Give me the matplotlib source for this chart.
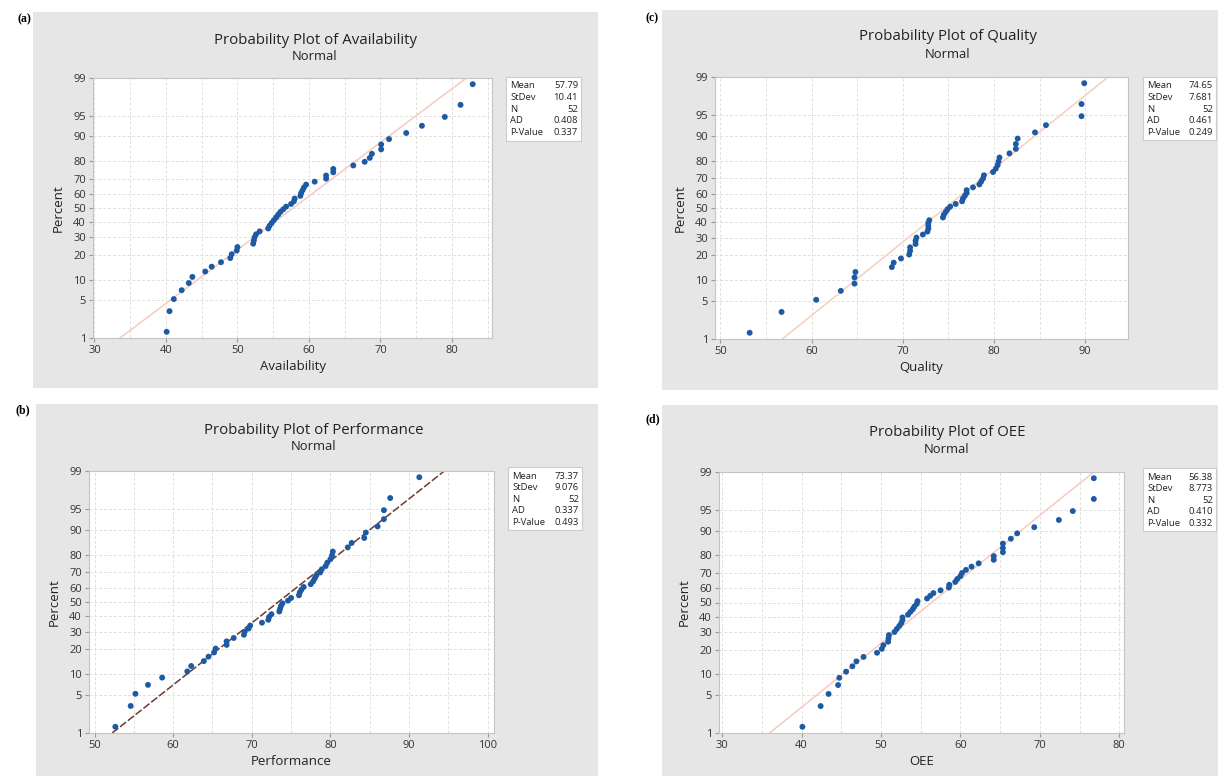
import numpy as np
import matplotlib
matplotlib.use("Agg")
import matplotlib.pyplot as plt
from matplotlib.patches import Rectangle
from matplotlib.ticker import MultipleLocator
from statistics import NormalDist

W, H = 1218, 776

availability = [40.1, 40.5, 41.1, 42.2, 43.2, 43.7, 45.5, 46.4, 47.7, 49.0,
                49.2, 49.9, 50.0, 52.2, 52.3, 52.4, 52.6, 53.1, 54.3, 54.5,
                54.8, 55.1, 55.4, 55.7, 56.0, 56.4, 56.8, 57.5, 57.9, 58.0,
                58.8, 58.9, 59.1, 59.3, 59.6, 60.8, 62.4, 62.4, 63.4, 63.4,
                66.2, 67.8, 68.5, 68.8, 70.1, 70.1, 71.2, 73.6, 75.8, 79.0,
                81.2, 82.9]
quality = [53.2, 56.7, 60.5, 63.2, 64.7, 64.7, 64.8, 68.8, 69.0, 69.8,
           70.7, 70.8, 70.8, 71.4, 71.4, 71.5, 72.2, 72.7, 72.8, 72.8,
           72.8, 72.9, 74.4, 74.5, 74.7, 74.9, 75.2, 75.8, 76.5, 76.6,
           76.8, 77.0, 77.0, 77.7, 78.4, 78.6, 78.8, 78.9, 79.9, 80.2,
           80.4, 80.5, 80.6, 81.7, 82.4, 82.4, 82.6, 84.5, 85.7, 89.6,
           89.6, 89.9]
performance = [52.65, 54.6, 55.2, 56.8, 58.6, 61.8, 62.3, 63.9, 64.5, 65.2,
               65.4, 66.8, 66.8, 67.7, 69.0, 69.1, 69.6, 69.8, 71.3, 72.1,
               72.2, 72.5, 73.5, 73.6, 73.7, 73.9, 74.6, 75.0, 76.0, 76.1,
               76.3, 76.6, 77.5, 77.8, 78.0, 78.2, 78.7, 78.9, 79.4, 79.6,
               80.0, 80.2, 80.3, 82.2, 82.7, 84.3, 84.5, 86.0, 86.8, 86.8,
               87.6, 91.3]
oee = [40.1, 42.4, 43.4, 44.6, 44.75, 45.6, 46.4, 46.9, 47.8, 49.5,
       50.1, 50.3, 50.9, 50.95, 51.0, 51.7, 52.0, 52.3, 52.55, 52.7,
       52.7, 53.4, 53.7, 54.0, 54.2, 54.5, 54.6, 55.8, 56.2, 56.6,
       57.5, 58.55, 58.6, 59.35, 59.6, 60.0, 60.2, 60.7, 61.4, 62.3,
       64.2, 64.2, 65.35, 65.35, 65.35, 66.35, 67.15, 69.3, 72.4, 74.15,
       76.8, 76.8]

stat_names = ["Mean", "StDev", "N", "AD", "P-Value"]
stats_avail = ["57.79", "10.41", "52", "0.408", "0.337"]
stats_qual = ["74.65", "7.681", "52", "0.461", "0.249"]
stats_perf = ["73.37", "9.076", "52", "0.337", "0.493"]
stats_oee = ["56.38", "8.773", "52", "0.410", "0.332"]

pct_ticks = [1, 5, 10, 20, 30, 40, 50, 60, 70, 80, 90, 95, 99]

nd = NormalDist()
_ppf = np.vectorize(nd.inv_cdf, otypes=[float])
_cdf = np.vectorize(nd.cdf, otypes=[float])


def fwd(p):
    p = np.clip(np.asarray(p, float), 1e-4, 100 - 1e-4) / 100
    return _ppf(p)


def inv(z):
    return _cdf(np.asarray(z, float)) * 100


def frect(l, t, r, b):
    return [l / W, 1 - b / H, (r - l) / W, (b - t) / H]


plt.rcParams['font.family'] = ['Open Sans', 'DejaVu Sans']
fig = plt.figure(figsize=(W / 100, H / 100), dpi=100)
fig.patch.set_facecolor('white')

panels = [
    dict(tag='(a)', tag_xy=(17, 19), name='Availability', data=availability,
         stats=stats_avail, bg=(33, 12, 598, 388), box=(93, 78, 492, 338),
         xlim=(29.8, 85.6), xmaj=10, title_xy=(315, 40), sbox=(506, 77, 581, 141),
         line='#f5cbc0', ls='-'),
    dict(tag='(c)', tag_xy=(646, 18), name='Quality', data=quality,
         stats=stats_qual, bg=(662, 10, 1218, 390), box=(715, 77, 1128, 339),
         xlim=(49.4, 94.7), xmaj=10, title_xy=(948, 37), sbox=(1143, 77, 1216, 140),
         line='#f5d0bc', ls='-'),
    dict(tag='(b)', tag_xy=(15, 410), name='Performance', data=performance,
         stats=stats_perf, bg=(36, 404, 598, 776), box=(89, 471, 494, 733),
         xlim=(49.3, 100.8), xmaj=10, title_xy=(314, 430), sbox=(508, 467, 582, 530),
         line='#6e3a2c', ls=(0, (5, 1.5))),
    dict(tag='(d)', tag_xy=(645, 419), name='OEE', data=oee,
         stats=stats_oee, bg=(662, 405, 1218, 776), box=(719, 472, 1124, 733),
         xlim=(29.6, 80.6), xmaj=10, title_xy=(947, 432), sbox=(1143, 468, 1216, 531),
         line='#f5cbc0', ls='-'),
]

for p in panels:
    l, t, r, b = p['bg']
    fig.add_artist(Rectangle((l / W, 1 - b / H), (r - l) / W, (b - t) / H,
                             transform=fig.transFigure, facecolor='#e6e6e6',
                             edgecolor='none', zorder=-2))
    fig.text(p['tag_xy'][0] / W, 1 - p['tag_xy'][1] / H, p['tag'],
             family='Liberation Serif', fontweight='bold', fontsize=8.5,
             ha='left', va='center')
    tx, ty = p['title_xy']
    fig.text(tx / W, 1 - ty / H, 'Probability Plot of ' + p['name'],
             fontsize=10.8, ha='center', va='center', color='#222222')
    fig.text(tx / W, 1 - (ty + 17) / H, 'Normal', fontsize=9.4,
             ha='center', va='center', color='#222222')

    ax = fig.add_axes(frect(*p['box']))
    ax.set_facecolor('white')
    ax.set_yscale('function', functions=(fwd, inv))

    vals = np.sort(np.array(p['data']))
    n = len(vals)
    ranks = np.arange(1, n + 1)
    pos = (ranks - 0.3) / (n + 0.4) * 100

    mean = float(p['stats'][0])
    sd = float(p['stats'][1])
    pl = np.array([1.0, 99.0])
    xl = mean + sd * fwd(pl)
    ax.plot(xl, pl, color=p['line'], lw=1.1, ls=p['ls'], zorder=2)
    ax.scatter(vals, pos, s=18, color='#1d5aa3', edgecolors='none', zorder=3)

    ax.set_xlim(*p['xlim'])
    ax.set_ylim(1, 99)
    ax.set_yticks(pct_ticks)
    ax.set_yticklabels([str(v) for v in pct_ticks])
    ax.xaxis.set_major_locator(MultipleLocator(p['xmaj']))
    ax.xaxis.set_minor_locator(MultipleLocator(p['xmaj'] / 2))
    ax.grid(True, which='major', color='#e0e0e0', lw=0.7, ls=(0, (3, 2)))
    ax.grid(True, which='minor', axis='x', color='#e0e0e0', lw=0.7, ls=(0, (3, 2)))
    ax.set_axisbelow(True)
    ax.tick_params(axis='both', which='major', labelsize=8, length=3,
                   color='#999999', labelcolor='#333333', pad=2)
    ax.tick_params(axis='x', which='minor', length=0)
    ax.tick_params(axis='y', which='minor', length=0)
    for s in ax.spines.values():
        s.set_color('#c4c4c4')
        s.set_linewidth(0.8)
    ax.set_xlabel(p['name'], fontsize=9.5, color='#222222', labelpad=3)
    ax.set_ylabel('Percent', fontsize=9.5, color='#222222', labelpad=6)

    sl, st, sr, sb = p['sbox']
    fig.add_artist(Rectangle((sl / W, 1 - sb / H), (sr - sl) / W, (sb - st) / H,
                             transform=fig.transFigure, facecolor='white',
                             edgecolor='#cccccc', lw=0.8, zorder=1))
    for k, (nm, v) in enumerate(zip(stat_names, p['stats'])):
        yy = st + 9 + k * 11.6
        fig.text((sl + 4) / W, 1 - yy / H, nm, fontsize=6.8, ha='left',
                 va='center', color='#222222', zorder=2)
        fig.text((sr - 3) / W, 1 - yy / H, v, fontsize=6.8, ha='right',
                 va='center', color='#222222', zorder=2)

fig.savefig('out.png', dpi=100)
